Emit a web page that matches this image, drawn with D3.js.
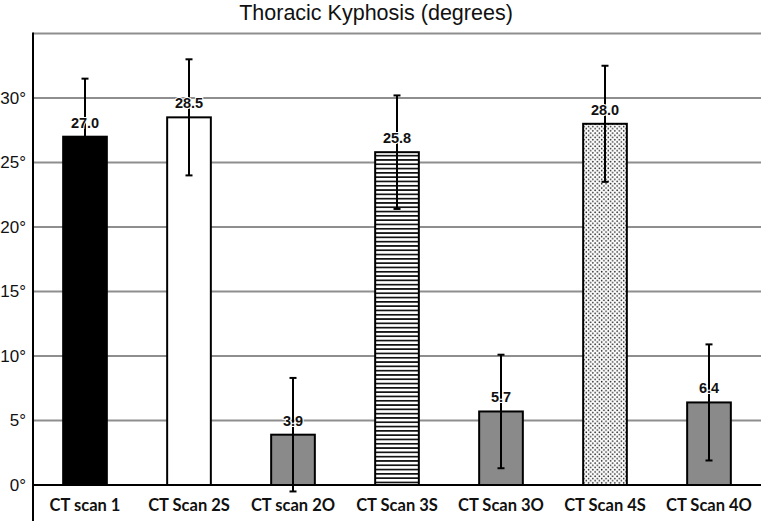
<!DOCTYPE html>
<html>
<head>
<meta charset="utf-8">
<script src="https://cdn.jsdelivr.net/npm/d3@7"></script>
<style>
  html, body { margin: 0; padding: 0; background: #fff; }
  svg { display: block; }
</style>
</head>
<body>
<svg id="chart" width="761" height="523"></svg>
<script>
// ---- data ----
const categories = ["CT scan 1", "CT Scan 2S", "CT scan 2O", "CT Scan 3S", "CT Scan 3O", "CT Scan 4S", "CT Scan 4O"];
const means = [27.0, 28.5, 3.9, 25.8, 5.7, 28.0, 6.4];
const errors = [4.5, 4.5, 4.4, 4.4, 4.4, 4.5, 4.5];
const yTicks = [0, 5, 10, 15, 20, 25, 30];
const gridLevels = [5, 10, 15, 20, 25, 30, 35];
const title = "Thoracic Kyphosis (degrees)";

// ---- drawing ----
(function () {
const svg = d3.select("#chart");
const mLeft = 33, mRight = 761, mTop = 33.5, mBottom = 485;

const x = d3.scaleBand().domain(categories).range([mLeft, mRight]).paddingInner(0.58).paddingOuter(0.29);
const y = d3.scaleLinear().domain([0, 35]).range([mBottom, mTop]);

const defs = svg.append("defs");
const stripes = defs.append("pattern").attr("id", "stripes").attr("patternUnits", "userSpaceOnUse")
  .attr("width", 8).attr("height", 4.3);
stripes.append("rect").attr("width", 8).attr("height", 4.3).attr("fill", "#fff");
stripes.append("rect").attr("y", 0).attr("width", 8).attr("height", 1.7).attr("fill", "#111");

const dots = defs.append("pattern").attr("id", "dots").attr("patternUnits", "userSpaceOnUse")
  .attr("width", 4.4).attr("height", 4.4);
dots.append("rect").attr("width", 4.4).attr("height", 4.4).attr("fill", "#fff");
dots.append("circle").attr("cx", 1.1).attr("cy", 1.1).attr("r", 0.8).attr("fill", "#222");
dots.append("circle").attr("cx", 3.3).attr("cy", 3.3).attr("r", 0.8).attr("fill", "#222");

const fills = ["#000", "#fff", "#8a8a8a", "url(#stripes)", "#8a8a8a", "url(#dots)", "#8a8a8a"];

// title
svg.append("text").attr("x", 376).attr("y", 20).attr("text-anchor", "middle")
  .attr("font-family", "Liberation Sans, Arial, sans-serif").attr("font-size", 21.5)
  .attr("fill", "#111").text(title);

// gridlines
svg.append("g").selectAll("line").data(gridLevels).join("line")
  .attr("x1", mLeft).attr("x2", mRight)
  .attr("y1", d => y(d)).attr("y2", d => y(d))
  .attr("stroke", "#8e8e8e").attr("stroke-width", 2);

// y axis
const yAxis = d3.axisLeft(y).tickValues(yTicks).tickSize(0).tickPadding(7).tickFormat(d => d + "°");
const yg = svg.append("g").attr("transform", `translate(${mLeft},0)`).call(yAxis);
yg.select(".domain").remove();
yg.selectAll("text").attr("font-family", "Liberation Sans, Arial, sans-serif").attr("font-size", 17).attr("fill", "#111");

// bars
svg.append("g").selectAll("rect").data(categories).join("rect")
  .attr("x", d => x(d)).attr("width", x.bandwidth())
  .attr("y", (d, i) => y(means[i])).attr("height", (d, i) => y(0) - y(means[i]))
  .attr("fill", (d, i) => fills[i]).attr("stroke", "#000").attr("stroke-width", 2);

// error bars
const eg = svg.append("g");
categories.forEach((c, i) => {
  const cx = x(c) + x.bandwidth() / 2;
  const hi = y(means[i] + errors[i]), lo = y(means[i] - errors[i]);
  eg.append("line").attr("x1", cx).attr("x2", cx).attr("y1", hi).attr("y2", lo).attr("stroke", "#000").attr("stroke-width", 2);
  [hi, lo].forEach(v => eg.append("line").attr("x1", cx - 3.5).attr("x2", cx + 3.5).attr("y1", v).attr("y2", v).attr("stroke", "#000").attr("stroke-width", 2));
});

// value labels
svg.append("g").selectAll("text").data(categories).join("text")
  .attr("x", d => x(d) + x.bandwidth() / 2)
  .attr("y", (d, i) => y(means[i]) - 9)
  .attr("text-anchor", "middle")
  .attr("font-family", "Liberation Sans, Arial, sans-serif").attr("font-size", 14.5).attr("font-weight", "bold")
  .attr("fill", "#111")
  .attr("stroke", "#fff").attr("stroke-width", 2).attr("paint-order", "stroke")
  .text((d, i) => means[i].toFixed(1));

// x axis
const xAxis = d3.axisBottom(x).tickSize(0).tickPadding(14);
const xg = svg.append("g").attr("transform", `translate(0,${mBottom})`).call(xAxis);
xg.select(".domain").remove();
xg.selectAll("text").attr("font-family", "Lato, sans-serif").attr("font-weight", "bold").attr("font-size", 16.5).attr("fill", "#111");
svg.append("line").attr("x1", mLeft).attr("x2", mRight).attr("y1", mBottom).attr("y2", mBottom).attr("stroke", "#000").attr("stroke-width", 2);

// left axis line
svg.append("line").attr("x1", mLeft).attr("x2", mLeft).attr("y1", mTop - 1).attr("y2", 521).attr("stroke", "#000").attr("stroke-width", 2);
})();
</script>
</body>
</html>
